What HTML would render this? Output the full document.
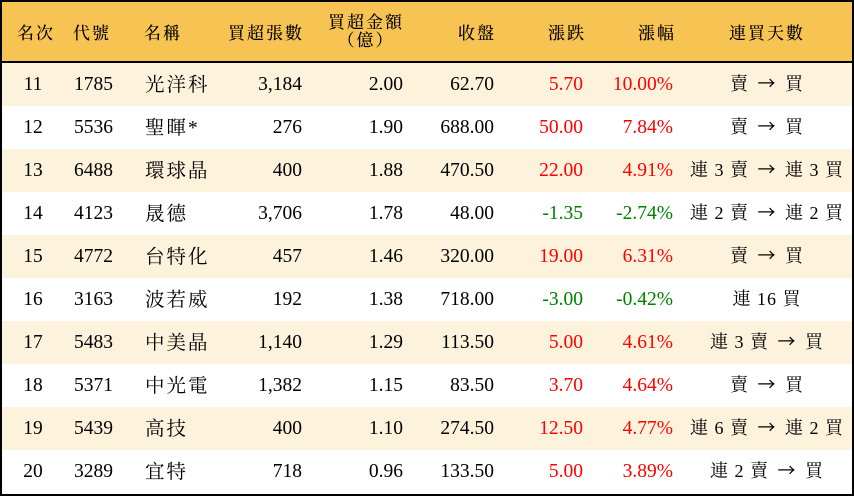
<!DOCTYPE html>
<html><head><meta charset="utf-8"><style>
*{margin:0;padding:0;box-sizing:border-box}
body{width:854px;height:496px;background:#fff;font-family:"Liberation Serif","Noto Serif CJK SC",serif;font-size:19.5px;color:#000;overflow:hidden}
.wrap{position:absolute;left:0;top:0;width:854px;height:496px;border:2px solid #000}
.row{position:absolute;left:0;width:850px;height:43px}
.hd{top:0;height:61px;background:#f7c352;border-bottom:2px solid #000}
.c{position:absolute;top:0;height:100%;display:flex;align-items:center;white-space:pre}
.r{justify-content:flex-end}.m{justify-content:center}
.red{color:#f00}.grn{color:#008000}
.hd .c{font-size:17px;letter-spacing:2px;font-weight:500}
.a{font-family:"Noto Sans CJK SC",sans-serif;font-size:18px;margin:0 3px;position:relative;top:0px}
.cj{letter-spacing:2px;top:-2px}
.k{font-size:18px;top:-2px;letter-spacing:1px}
</style></head><body><div class="wrap" id="w"></div>
<script>
var d=[
["11","1785","光洋科","3,184","2.00","62.70","5.70","10.00%","賣 → 買",1],
["12","5536","聖暉*","276","1.90","688.00","50.00","7.84%","賣 → 買",1],
["13","6488","環球晶","400","1.88","470.50","22.00","4.91%","連 3 賣 → 連 3 買",1],
["14","4123","晟德","3,706","1.78","48.00","-1.35","-2.74%","連 2 賣 → 連 2 買",0],
["15","4772","台特化","457","1.46","320.00","19.00","6.31%","賣 → 買",1],
["16","3163","波若威","192","1.38","718.00","-3.00","-0.42%","連 16 買",0],
["17","5483","中美晶","1,140","1.29","113.50","5.00","4.61%","連 3 賣 → 買",1],
["18","5371","中光電","1,382","1.15","83.50","3.70","4.64%","賣 → 買",1],
["19","5439","高技","400","1.10","274.50","12.50","4.77%","連 6 賣 → 連 2 買",1],
["20","3289","宜特","718","0.96","133.50","5.00","3.89%","連 2 賣 → 買",1]];
var h='<div class="row hd">'+
'<div class="c m" style="left:8px;width:52px">名次</div>'+
'<div class="c" style="left:71px">代號</div>'+
'<div class="c" style="left:142px">名稱</div>'+
'<div class="c r" style="right:548px">買超張數</div>'+
'<div class="c m" style="left:318px;width:92px;flex-direction:column;justify-content:center;line-height:18px"><span>買超金額</span><span>（億）</span></div>'+
'<div class="c r" style="right:356px">收盤</div>'+
'<div class="c r" style="right:266px">漲跌</div>'+
'<div class="c r" style="right:176px">漲幅</div>'+
'<div class="c m" style="left:680px;width:170px">連買天數</div></div>';
for(var i=0;i<d.length;i++){var r=d[i],cl=r[9]?'red':'grn';
var t=r[8].replace('→','<span class="a">→</span>');
h+='<div class="row" style="top:'+(61+i*43)+'px;background:'+(i%2==0?'#fdf3dc':'#fff')+'">'+
'<div class="c m" style="left:8px;width:46px">'+r[0]+'</div>'+
'<div class="c" style="left:72px">'+r[1]+'</div>'+
'<div class="c cj" style="left:143px">'+r[2]+'</div>'+
'<div class="c r" style="right:550px">'+r[3]+'</div>'+
'<div class="c r" style="right:449px">'+r[4]+'</div>'+
'<div class="c r" style="right:358px">'+r[5]+'</div>'+
'<div class="c r '+cl+'" style="right:269px">'+r[6]+'</div>'+
'<div class="c r '+cl+'" style="right:179px">'+r[7]+'</div>'+
'<div class="c m k" style="left:680px;width:170px">'+t+'</div></div>';}
document.getElementById('w').innerHTML=h;
</script></body></html>
